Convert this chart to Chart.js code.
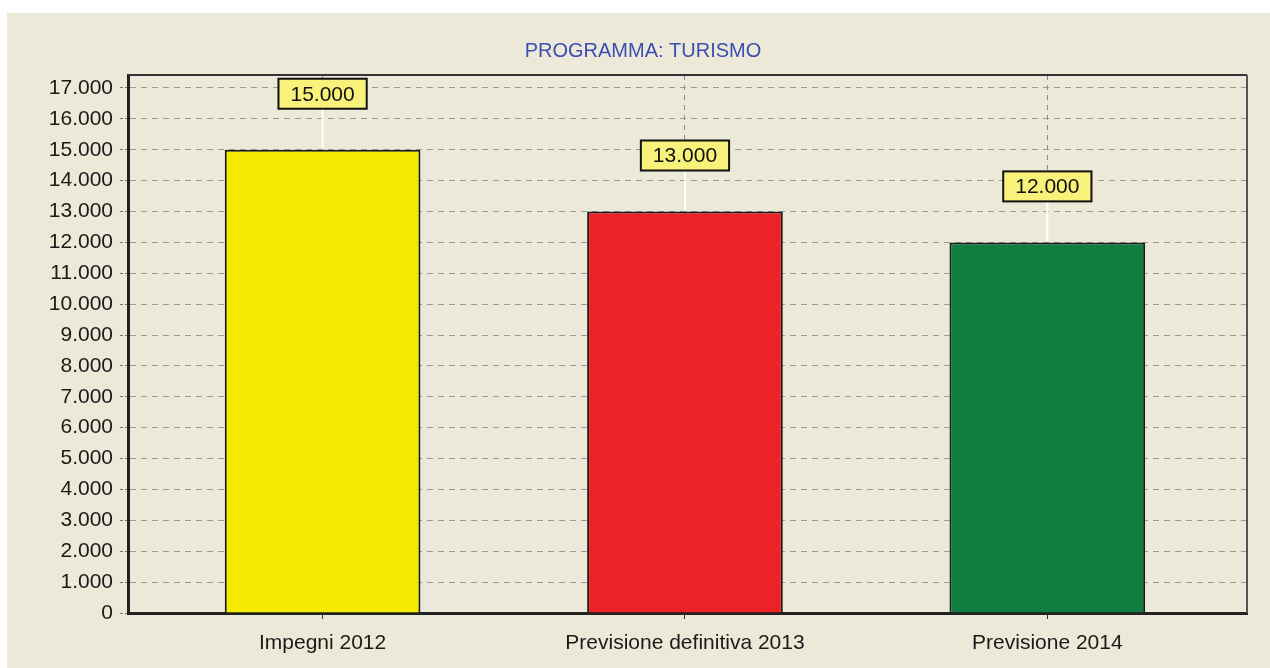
<!DOCTYPE html>
<html>
<head>
<meta charset="utf-8">
<script src="https://cdn.jsdelivr.net/npm/chart.js@4.4.0/dist/chart.umd.min.js"></script>
<style>
  html, body { margin: 0; padding: 0; background: #fff; }
  #wrap { position: absolute; left: 7px; top: 13px; width: 1263px; height: 655px; background: #ece9d8; }
</style>
</head>
<body>
<div id="wrap"><canvas id="chart"></canvas></div>
<script>
const categories = ['Impegni 2012', 'Previsione definitiva 2013', 'Previsione 2014'];
const values = [15000, 13000, 12000];
const barColors = ['#f5eb00', '#ec2227', '#0f7f3f'];
const yTickValues = [0, 1000, 2000, 3000, 4000, 5000, 6000, 7000, 8000, 9000,
    10000, 11000, 12000, 13000, 14000, 15000, 16000, 17000];

const FONT = '"Liberation Sans", Arial, sans-serif';

// italian style thousands: 15.000
function fmt(v) {
    return String(v).replace(/\B(?=(\d{3})+(?!\d))/g, '.');
}

// value boxes above bars, with the white leader line
const valueLabels = {
    id: 'valueLabels',
    afterDatasetsDraw(chart) {
        const ctx = chart.ctx;
        const meta = chart.getDatasetMeta(0);
        ctx.save();
        ctx.font = '21px ' + FONT;
        meta.data.forEach((bar, i) => {
            const text = fmt(values[i]);
            const boxW = ctx.measureText(text).width + 24;
            const boxH = 30;
            const boxY = bar.y - 56 - boxH / 2;
            ctx.strokeStyle = '#ffffff';
            ctx.lineWidth = 2;
            ctx.beginPath();
            ctx.moveTo(bar.x, boxY + boxH);
            ctx.lineTo(bar.x, bar.y - 1);
            ctx.stroke();
            ctx.fillStyle = '#f8f27a';
            ctx.fillRect(bar.x - boxW / 2, boxY, boxW, boxH);
            ctx.strokeStyle = '#111';
            ctx.lineWidth = 2;
            ctx.strokeRect(bar.x - boxW / 2, boxY, boxW, boxH);
            ctx.fillStyle = '#111';
            ctx.textAlign = 'center';
            ctx.textBaseline = 'middle';
            ctx.fillText(text, bar.x, boxY + boxH / 2 + 1);
        });
        ctx.restore();
    }
};

// top and right edges of the plot frame
const plotFrame = {
    id: 'plotFrame',
    afterDatasetsDraw(chart) {
        const { ctx, chartArea: a } = chart;
        ctx.save();
        ctx.lineWidth = 2;
        ctx.strokeStyle = '#333';
        ctx.beginPath();
        ctx.moveTo(a.left, a.top);
        ctx.lineTo(a.right, a.top);
        ctx.stroke();
        ctx.strokeStyle = '#555';
        ctx.beginPath();
        ctx.moveTo(a.right, a.top);
        ctx.lineTo(a.right, a.bottom);
        ctx.stroke();
        ctx.restore();
    }
};

new Chart(document.getElementById('chart'), {
    type: 'bar',
    data: {
        datasets: [{
            data: values.map((v, i) => ({ x: i, y: v })),
            backgroundColor: barColors,
            borderColor: '#1a1a1a',
            borderWidth: 2,
            categoryPercentage: 1,
            barPercentage: 0.54
        }]
    },
    options: {
        responsive: true,
        maintainAspectRatio: false,
        animation: false,
        layout: { padding: { left: 32, right: 23, top: 0, bottom: 0 } },
        plugins: {
            legend: { display: false },
            tooltip: { enabled: false },
            title: {
                display: true,
                text: 'PROGRAMMA: TURISMO',
                color: '#3c4eb4',
                font: { family: FONT, size: 20, weight: 'normal' },
                padding: { top: 26, bottom: 12 }
            }
        },
        scales: {
            x: {
                type: 'linear',
                offset: false,
                min: -0.537,
                max: 2.551,
                afterFit: (scale) => { scale.height = 55; },
                ticks: {
                    stepSize: 1,
                    includeBounds: false,
                    autoSkip: false,
                    maxRotation: 0,
                    padding: 12,
                    color: '#1a1a1a',
                    font: { family: FONT, size: 21 },
                    callback: (v) => categories[v] !== undefined ? categories[v] : ''
                },
                grid: {
                    offset: false,
                    color: '#8a8a8a',
                    lineWidth: 1,
                    tickLength: 6,
                    tickColor: '#333'
                },
                border: { color: '#222', width: 3, dash: [5, 5] }
            },
            y: {
                min: 0,
                max: 17420,
                afterBuildTicks: (scale) => {
                    scale.ticks = yTickValues.map(v => ({ value: v }));
                },
                afterFit: (scale) => { scale.width = 89; },
                ticks: {
                    padding: 7,
                    color: '#1a1a1a',
                    font: { family: FONT, size: 21 },
                    callback: (v) => fmt(v)
                },
                grid: {
                    color: '#9a9a9a',
                    lineWidth: 1,
                    tickLength: 8,
                    tickColor: '#777',
                    tickBorderDash: [3, 2]
                },
                border: { color: '#222', width: 3, dash: [6, 5] }
            }
        }
    },
    plugins: [valueLabels, plotFrame]
});
</script>
</body>
</html>
